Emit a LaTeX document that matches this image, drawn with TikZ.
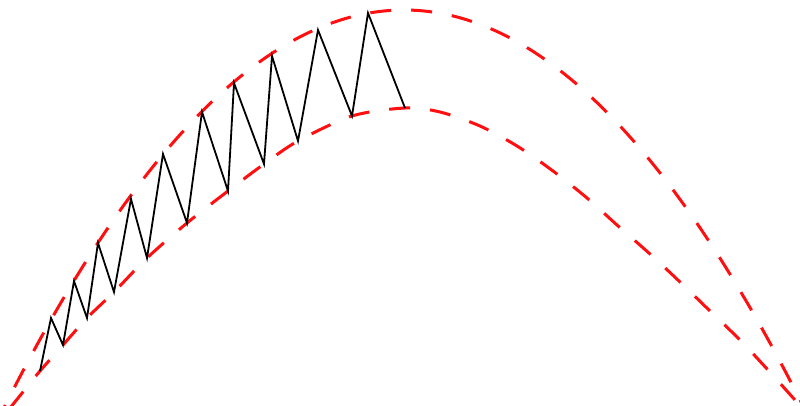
\documentclass[tikz,border=0pt]{standalone}
\usepackage{tikz}
\definecolor{Bound}{HTML}{FF0F0F}
\tikzset{
  bound/.style={draw=Bound,line width=3pt,dash pattern=on 21pt off 20pt},
  zig/.style={draw=black,line width=1.8pt,line join=miter},
}
\begin{document}
\begin{tikzpicture}[x=1pt,y=-1pt]
  \useasboundingbox (0,0) rectangle (800,406);
  \clip (0,0) rectangle (800,406);
  % outer bound
  \draw[bound] plot[domain=-4:812,samples=160] (\x,{10+0.2486*((\x-404)/10)^2});
  % inner bound
  \draw[bound] plot[smooth] coordinates {(10,408) (27,387) (40,371) (63,345) (87,318) (114,292)
    (147,258) (187,223) (228,191) (264,164) (298,141) (352,116) (405,108) (440,112)
    (480,126) (517,146) (553,171) (587,198) (617,225) (650,254) (680,282) (710,311)
    (740,340) (768,370) (795,400) (802,408)};
  % iterates
  \draw[zig] (40,371) -- (51,318) -- (63,345) -- (74,281) -- (87,318) -- (98,243)
    -- (114,292) -- (131,199) -- (147,258) -- (163,154) -- (187,223) -- (202,112)
    -- (228,191) -- (234,83) -- (264,164) -- (272,56) -- (298,141) -- (318,30)
    -- (352,116) -- (368,13) -- (405,108);
\end{tikzpicture}
\end{document}
